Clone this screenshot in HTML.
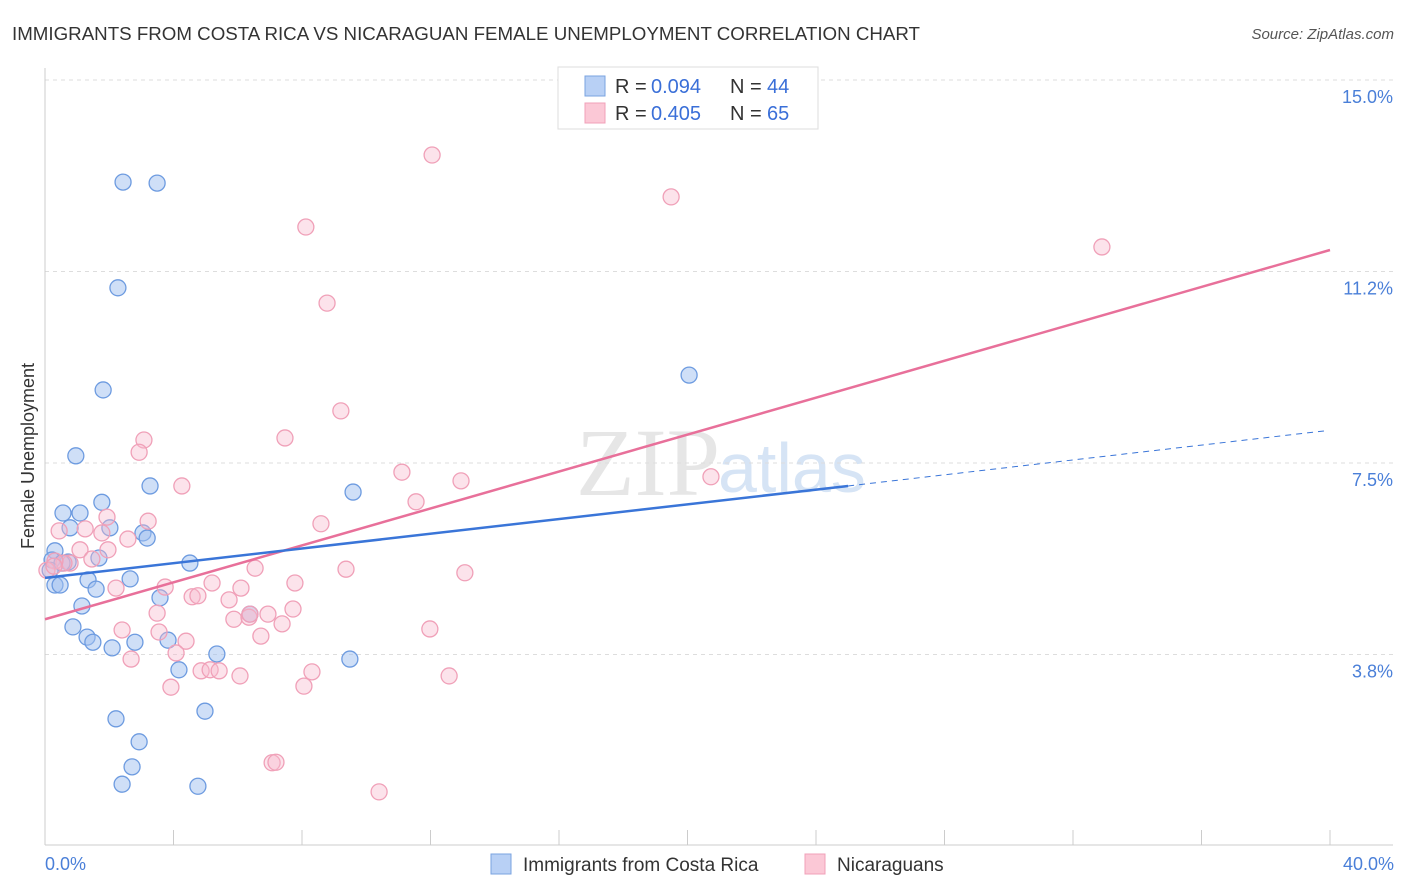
<!DOCTYPE html>
<html><head><meta charset="utf-8"><style>
body{margin:0;background:#fff;font-family:"Liberation Sans",sans-serif;}
svg{display:block}
</style></head><body>
<svg width="1406" height="892" id="c">
<text x="12" y="40" font-size="18" fill="#333" textLength="908" lengthAdjust="spacingAndGlyphs">IMMIGRANTS FROM COSTA RICA VS NICARAGUAN FEMALE UNEMPLOYMENT CORRELATION CHART</text>
<text x="1394" y="39" font-size="15" fill="#555" font-style="italic" text-anchor="end">Source: ZipAtlas.com</text>
<text x="720" y="495" font-size="96" fill="#e6e6e6" text-anchor="end" font-family="Liberation Serif">ZIP</text>
<text x="718" y="492" font-size="70" fill="#d6e4f5">atlas</text>
<text transform="translate(34,456) rotate(-90)" font-size="18" fill="#333" text-anchor="middle">Female Unemployment</text>
<g id="grid"></g><g id="lines"></g><g id="pts"></g>
<g>
<rect x="558" y="67" width="260" height="62" fill="#fff" stroke="#ddd"/>
<rect x="585" y="76" width="20" height="20" fill="#b8d0f5" stroke="#7aa3e0"/>
<rect x="585" y="103" width="20" height="20" fill="#fbc8d6" stroke="#f0a0b8"/>
<text x="615" y="93" font-size="20" fill="#333">R =</text>
<text x="651" y="93" font-size="20" fill="#3a6fd8">0.094</text>
<text x="730" y="93" font-size="20" fill="#333">N =</text>
<text x="767" y="93" font-size="20" fill="#3a6fd8">44</text>
<text x="615" y="120" font-size="20" fill="#333">R =</text>
<text x="651" y="120" font-size="20" fill="#3a6fd8">0.405</text>
<text x="730" y="120" font-size="20" fill="#333">N =</text>
<text x="767" y="120" font-size="20" fill="#3a6fd8">65</text>
</g>
<g>
<rect x="491" y="854" width="20" height="20" fill="#b8d0f5" stroke="#7aa3e0"/>
<text x="523" y="871" font-size="19" fill="#333">Immigrants from Costa Rica</text>
<rect x="805" y="854" width="20" height="20" fill="#fbc8d6" stroke="#f0a0b8"/>
<text x="837" y="871" font-size="19" fill="#333">Nicaraguans</text>
</g>
<text x="45" y="870" font-size="18" fill="#4a7fd8">0.0%</text>
<text x="1394" y="870" font-size="18" fill="#4a7fd8" text-anchor="end">40.0%</text>
</svg>
<script>
const yTicks=[3.75,7.5,11.25,15];
const yTickLabels=["3.8%","7.5%","11.2%","15.0%"];
const xTicks=[0,4,8,12,16,20,24,28,32,36,40];
const blueX=[2.43,3.49,2.27,1.81,20.05,0.96,3.27,9.59,1.77,0.56,1.09,0.78,2.02,3.05,3.18,0.31,1.68,0.22,4.51,0.72,0.53,0.16,2.65,1.34,0.31,0.47,1.59,3.58,1.15,6.38,0.87,1.31,1.49,2.80,3.83,2.09,5.35,9.49,4.17,2.21,4.98,2.93,2.71,2.40,4.76];
const blueY=[13.0,12.98,10.93,8.93,9.22,7.64,7.05,6.93,6.73,6.52,6.52,6.23,6.23,6.13,6.03,5.78,5.64,5.60,5.54,5.56,5.54,5.40,5.23,5.21,5.11,5.11,5.03,4.86,4.70,4.54,4.29,4.09,3.99,3.99,4.03,3.88,3.76,3.66,3.45,2.49,2.64,2.04,1.55,1.21,1.17];
const pinkX=[12.05,19.49,8.12,32.90,8.78,9.21,3.08,7.47,2.93,11.11,4.26,12.95,20.73,11.55,3.21,1.93,8.59,0.44,1.25,2.58,1.77,1.09,1.96,1.46,0.78,0.59,0.31,0.06,6.54,9.37,13.07,5.20,3.74,6.10,7.78,2.21,4.58,4.76,5.73,3.49,7.72,6.94,5.88,6.35,7.38,2.40,3.55,6.72,11.98,4.39,4.08,2.68,4.86,5.14,5.42,8.31,6.07,12.58,3.92,8.06,7.07,7.19,10.40,6.38,0.28];
const pinkY=[13.53,12.71,12.12,11.73,10.63,8.52,7.95,7.99,7.71,7.32,7.05,7.15,7.23,6.74,6.36,6.44,6.31,6.17,6.21,6.01,6.13,5.80,5.80,5.62,5.54,5.54,5.58,5.40,5.44,5.42,5.35,5.15,5.07,5.05,5.15,5.05,4.88,4.90,4.82,4.56,4.64,4.54,4.44,4.48,4.35,4.23,4.19,4.11,4.25,4.01,3.78,3.66,3.43,3.45,3.43,3.41,3.33,3.33,3.11,3.13,1.63,1.64,1.06,4.54,5.48];
const pinkTrend=[4.44,11.67];
const blueTrend=[5.25,7.05,8.13];
const blueTrendX=[0,25,39.85];
const NS="http://www.w3.org/2000/svg";
const X=v=>45+v*32.125, Y=v=>846-v*51.07;
function mk(t,a,p){const e=document.createElementNS(NS,t);for(const k in a)e.setAttribute(k,a[k]);p.appendChild(e);return e;}
const g=document.getElementById('grid');
yTicks.forEach((t,i)=>{
 const l=mk('line',{x1:45,x2:1393,y1:Y(t),y2:Y(t),stroke:'#ddd','stroke-dasharray':'4,4'},g);
 
 
 const tx=mk('text',{x:1393,y:Y(t)+23,'font-size':18,fill:'#4a7fd8','text-anchor':'end'},g);
 tx.textContent=yTickLabels[i];
 
 
});
const ax=mk('line',{x1:45,x2:1393,y1:845,y2:845,stroke:'#ccc'},g);


const ay=mk('line',{x1:45,x2:45,y1:68,y2:845,stroke:'#ccc'},g);


xTicks.forEach(t=>{const l=mk('line',{x1:X(t),x2:X(t),y1:830,y2:845,stroke:'#ccc'},g);
 
 });
const P=document.getElementById('pts');
blueX.forEach((x,i)=>{const c=mk('circle',{cx:X(x),cy:Y(blueY[i]),r:8,fill:'rgba(160,192,240,0.5)',stroke:'#6d9be0','stroke-width':1.3},P);
 
 });
pinkX.forEach((x,i)=>{const c=mk('circle',{cx:X(x),cy:Y(pinkY[i]),r:8,fill:'rgba(248,185,205,0.4)',stroke:'#f0a0b8','stroke-width':1.3},P);
 
 });
const pl=mk('line',{x1:X(0),y1:Y(pinkTrend[0]),x2:X(40),y2:Y(pinkTrend[1]),stroke:'#e8709a','stroke-width':2.5},P);


const bl=mk('line',{x1:X(blueTrendX[0]),y1:Y(blueTrend[0]),x2:X(blueTrendX[1]),y2:Y(blueTrend[1]),stroke:'#3a75d8','stroke-width':2.5},P);


const bd=mk('line',{x1:X(blueTrendX[1]),y1:Y(blueTrend[1]),x2:X(blueTrendX[2]),y2:Y(blueTrend[2]),stroke:'#3a75d8','stroke-width':1,'stroke-dasharray':'6,5'},P);


</script>
</body></html>
